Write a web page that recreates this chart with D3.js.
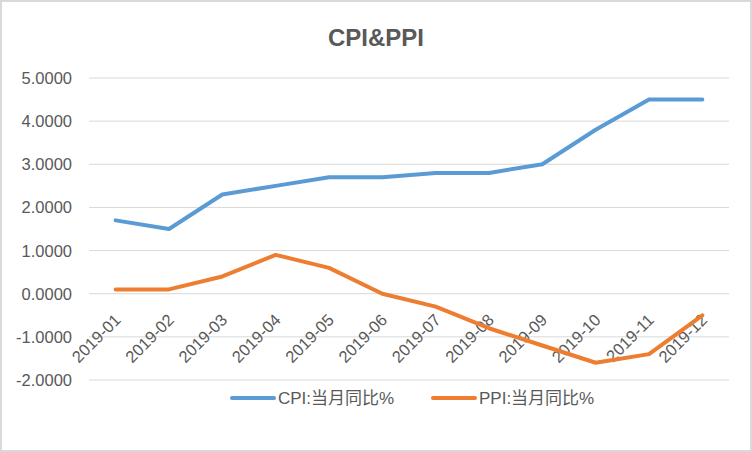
<!DOCTYPE html>
<html>
<head>
  <style>
    body {
      margin: 0;
      background: white;
    }
    text {
      font-family: "Liberation Sans", "Noto Sans CJK SC", sans-serif;
      fill: #595959;
    }
  </style>
</head>
<body>
  <script src="https://d3js.org/d3.v7.min.js"></script>
  <script>
    var width = 752, height = 452;

    var months = ["2019-01", "2019-02", "2019-03", "2019-04", "2019-05", "2019-06",
                  "2019-07", "2019-08", "2019-09", "2019-10", "2019-11", "2019-12"];
    var cpi = [1.7, 1.5, 2.3, 2.5, 2.7, 2.7, 2.8, 2.8, 3.0, 3.8, 4.5, 4.5];
    var ppi = [0.1, 0.1, 0.4, 0.9, 0.6, 0.0, -0.3, -0.8, -1.2, -1.6, -1.4, -0.5];
    var yTicks = [-2, -1, 0, 1, 2, 3, 4, 5];
    var seriesNames = ["CPI:当月同比%", "PPI:当月同比%"];
    var colors = ["#5B9BD5", "#ED7D31"];

    var svg = d3.select("body").append("svg")
        .attr("width", width)
        .attr("height", height);

    // chart border
    svg.append("rect")
        .attr("x", 1).attr("y", 1)
        .attr("width", width - 2).attr("height", height - 2)
        .attr("fill", "white")
        .attr("stroke", "#D9D9D9")
        .attr("stroke-width", 2);

    var x = d3.scalePoint().domain(months).range([89, 729]).padding(0.5);
    var y = d3.scaleLinear().domain([-2, 5]).range([380, 78]);

    // gridlines
    svg.append("g").selectAll("line")
        .data(yTicks)
      .enter().append("line")
        .attr("x1", 89).attr("x2", 729)
        .attr("y1", d => y(d)).attr("y2", d => y(d))
        .attr("stroke", "#D9D9D9")
        .attr("stroke-width", 1);

    // y labels
    svg.append("g").selectAll("text")
        .data(yTicks)
      .enter().append("text")
        .attr("x", 72)
        .attr("y", d => y(d))
        .attr("dy", "0.36em")
        .attr("text-anchor", "end")
        .style("font-size", "16.5px")
        .text(d => d.toFixed(4));

    // x labels, rotated
    svg.append("g").selectAll("text")
        .data(months)
      .enter().append("text")
        .attr("text-anchor", "end")
        .attr("transform", d => "translate(" + (x(d) + 6) + ",321) rotate(-45)")
        .style("font-size", "16.5px")
        .text(d => d);

    // lines
    var line = d3.line()
        .x((d, i) => x(months[i]))
        .y(d => y(d));

    [cpi, ppi].forEach((s, k) => {
      svg.append("path")
          .datum(s)
          .attr("d", line)
          .attr("fill", "none")
          .attr("stroke", colors[k])
          .attr("stroke-width", 4)
          .attr("stroke-linejoin", "round")
          .attr("stroke-linecap", "round");
    });

    // title
    svg.append("text")
        .attr("x", 376)
        .attr("y", 46)
        .attr("text-anchor", "middle")
        .style("font-size", "24px")
        .style("font-weight", "bold")
        .text("CPI&PPI");

    // legend
    var legendX = [232, 433];
    seriesNames.forEach((name, k) => {
      svg.append("line")
          .attr("x1", legendX[k]).attr("x2", legendX[k] + 42)
          .attr("y1", 398).attr("y2", 398)
          .attr("stroke", colors[k])
          .attr("stroke-width", 4)
          .attr("stroke-linecap", "round");
      svg.append("text")
          .attr("x", legendX[k] + 46)
          .attr("y", 398)
          .attr("dy", "0.36em")
          .style("font-size", "17px")
          .text(name);
    });
  </script>
</body>
</html>
